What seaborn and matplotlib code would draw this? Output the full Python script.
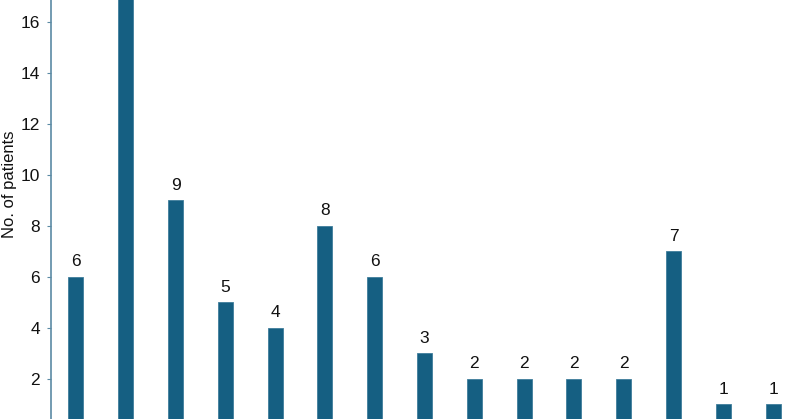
import matplotlib
matplotlib.use("Agg")
import matplotlib.pyplot as plt
import seaborn as sns
import pandas as pd

categories = [f"c{i}" for i in range(1, 16)]
values = [6, 18, 9, 5, 4, 8, 6, 3, 2, 2, 2, 2, 7, 1, 1]
yticks = [2, 4, 6, 8, 10, 12, 14, 16]

sns.set_theme(style="white")
plt.rcParams['font.family'] = ['Liberation Sans', 'DejaVu Sans']

df = pd.DataFrame({"cat": categories, "val": values})

fig = plt.figure(figsize=(8, 4.19), dpi=100)
ax = fig.add_axes([51/800, 0, 747/800, 1])
bar_color = "#155f82"
sns.barplot(data=df, x="cat", y="val", color=bar_color, width=0.3,
            saturation=1, edgecolor="#3f7d9b", linewidth=0.6, ax=ax)

for i, v in enumerate(values):
    ax.text(i, v + 0.3, str(v), ha="center", va="bottom", fontsize=12.5,
            color="#111111", clip_on=True)

ax.set_xlim(-0.5, 14.5)
ax.set_ylim(0.43, 16.86)
ax.set_yticks(yticks)
ax.set_yticklabels([str(t) for t in yticks], fontsize=12.5, color="#111111")
ax.set_xticks([])
ax.set_xlabel("")
ax.set_ylabel("No. of patients", fontsize=12, color="#111111")
ax.yaxis.set_label_coords(-0.045, 0.56)
for s in ["top", "right", "bottom"]:
    ax.spines[s].set_visible(False)
ax.spines["left"].set_color("#5b8aa4")
ax.spines["left"].set_linewidth(1.2)
ax.tick_params(axis="y", left=True, length=3, width=0.8, color="#5b8aa4", pad=5)

fig.savefig("out.png", dpi=100)
